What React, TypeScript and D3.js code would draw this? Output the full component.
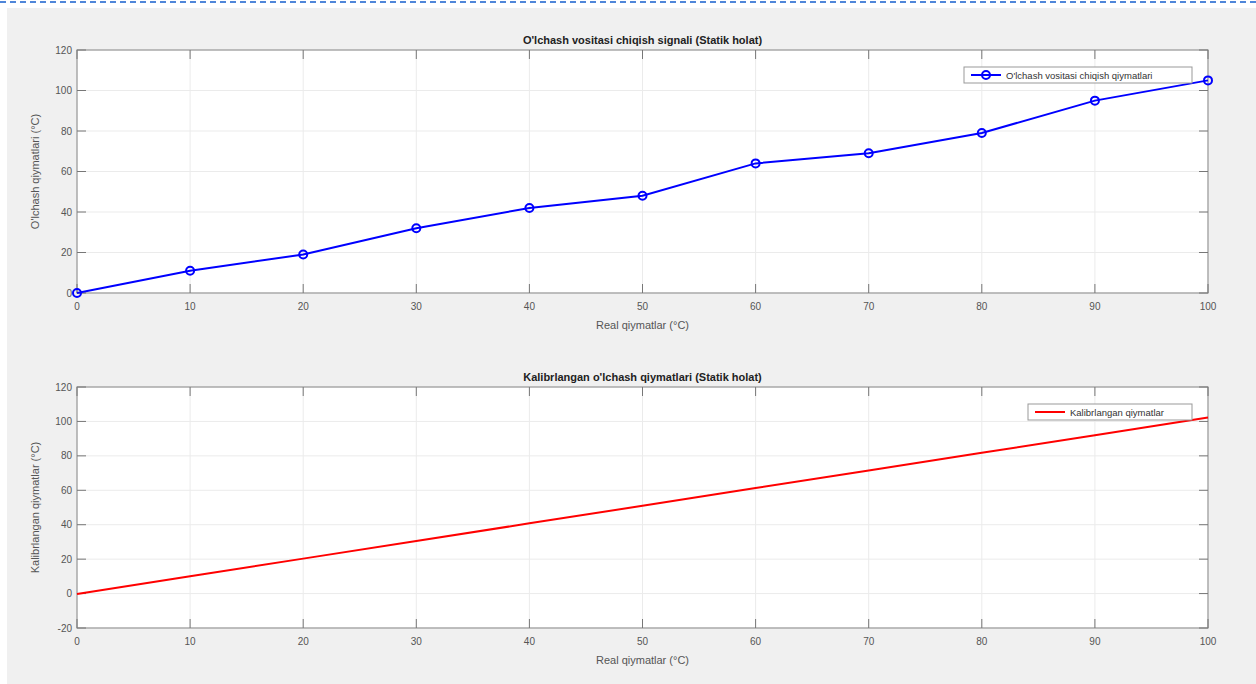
import React, { useEffect, useRef } from 'react';
import * as d3 from 'd3';

// data
const realValues = [0, 10, 20, 30, 40, 50, 60, 70, 80, 90, 100];
const measuredValues = [0, 11, 19, 32, 42, 48, 64, 69, 79, 95, 105];
const calibratedValues = [-0.3, 10, 20.3, 30.5, 40.8, 51, 61.3, 71.5, 81.8, 92, 102.3];
const xTicks = [0, 10, 20, 30, 40, 50, 60, 70, 80, 90, 100];
const yTicksTop = [0, 20, 40, 60, 80, 100, 120];
const yTicksBottom = [-20, 0, 20, 40, 60, 80, 100, 120];

const W = 1256, H = 684;
const font = '"Liberation Sans", Arial, sans-serif';

function App() {
  const ref = useRef<SVGSVGElement>(null);

  useEffect(() => {
    const svg = d3.select(ref.current);
    svg.selectAll('*').remove();

    // figure background
    svg.append('rect').attr('x', 7).attr('y', 8).attr('width', W - 7).attr('height', H - 8).attr('fill', '#f0f0f0');
    svg.append('line').attr('x1', 0).attr('x2', W).attr('y1', 2).attr('y2', 2)
      .attr('stroke', '#4f86d9').attr('stroke-width', 2).attr('stroke-dasharray', '6,4');

    function panel(opts: any) {
      const { top, bottom, yDomain, yTicks, title, ylabel, values, color, markers, legend, legendW } = opts;
      const left = 77, right = 1208;
      const x = d3.scaleLinear().domain([0, 100]).range([left, right]);
      const y = d3.scaleLinear().domain(yDomain).range([bottom, top]);
      const g = svg.append('g');

      g.append('rect').attr('x', left).attr('y', top).attr('width', right - left).attr('height', bottom - top).attr('fill', '#fff');

      // grid
      g.selectAll('.gx').data(xTicks).join('line')
        .attr('x1', d => x(d)).attr('x2', d => x(d)).attr('y1', top).attr('y2', bottom)
        .attr('stroke', '#ebebeb').attr('stroke-width', 1);
      g.selectAll('.gy').data(yTicks).join('line')
        .attr('x1', left).attr('x2', right).attr('y1', d => y(d)).attr('y2', d => y(d))
        .attr('stroke', '#ebebeb').attr('stroke-width', 1);

      // box
      g.append('rect').attr('x', left).attr('y', top).attr('width', right - left).attr('height', bottom - top)
        .attr('fill', 'none').attr('stroke', '#999').attr('stroke-width', 1.2);

      // inward ticks
      const tl = 9;
      xTicks.forEach(t => {
        g.append('line').attr('x1', x(t)).attr('x2', x(t)).attr('y1', bottom).attr('y2', bottom - tl).attr('stroke', '#777');
        g.append('line').attr('x1', x(t)).attr('x2', x(t)).attr('y1', top).attr('y2', top + tl).attr('stroke', '#777');
        g.append('text').attr('x', x(t)).attr('y', bottom + 17).attr('text-anchor', 'middle')
          .attr('font-family', font).attr('font-size', 10).attr('fill', '#555').text(t);
      });
      yTicks.forEach((t: number) => {
        g.append('line').attr('x1', left).attr('x2', left + tl).attr('y1', y(t)).attr('y2', y(t)).attr('stroke', '#777');
        g.append('line').attr('x1', right).attr('x2', right - tl).attr('y1', y(t)).attr('y2', y(t)).attr('stroke', '#777');
        g.append('text').attr('x', left - 5).attr('y', y(t) + 3.5).attr('text-anchor', 'end')
          .attr('font-family', font).attr('font-size', 10).attr('fill', '#555').text(t);
      });

      // title and labels
      g.append('text').attr('x', (left + right) / 2).attr('y', top - 6).attr('text-anchor', 'middle')
        .attr('font-family', font).attr('font-size', 11).attr('font-weight', 'bold').attr('fill', '#222').text(title);
      g.append('text').attr('x', (left + right) / 2).attr('y', bottom + 36).attr('text-anchor', 'middle')
        .attr('font-family', font).attr('font-size', 11).attr('fill', '#555').text('Real qiymatlar (°C)');
      g.append('text').attr('transform', `translate(39,${(top + bottom) / 2}) rotate(-90)`).attr('text-anchor', 'middle')
        .attr('font-family', font).attr('font-size', 11).attr('fill', '#555').text(ylabel);

      // line
      const line = d3.line<number>().x((d, i) => x(realValues[i])).y(d => y(d));
      g.append('path').datum(values).attr('d', line).attr('fill', 'none')
        .attr('stroke', color).attr('stroke-width', 2);
      if (markers) {
        g.selectAll('.mk').data(values).join('circle')
          .attr('cx', (d, i) => x(realValues[i])).attr('cy', d => y(d)).attr('r', 4)
          .attr('fill', 'none').attr('stroke', color).attr('stroke-width', 2);
      }

      // legend
      const lx = right - 16 - legendW, ly = top + 17;
      g.append('rect').attr('x', lx).attr('y', ly).attr('width', legendW).attr('height', 16)
        .attr('fill', '#fff').attr('stroke', '#999').attr('stroke-width', 1);
      g.append('line').attr('x1', lx + 7).attr('x2', lx + 37).attr('y1', ly + 8).attr('y2', ly + 8)
        .attr('stroke', color).attr('stroke-width', 2);
      if (markers) {
        g.append('circle').attr('cx', lx + 22).attr('cy', ly + 8).attr('r', 4)
          .attr('fill', 'none').attr('stroke', color).attr('stroke-width', 2);
      }
      g.append('text').attr('x', lx + 42).attr('y', ly + 11.5).attr('font-family', font).attr('font-size', 9.5)
        .attr('fill', '#333').text(legend);
    }

    panel({
      top: 50, bottom: 293, yDomain: [0, 120], yTicks: yTicksTop,
      title: "O'lchash vositasi chiqish signali (Statik holat)",
      ylabel: "O'lchash qiymatlari (°C)", values: measuredValues, color: '#0000ff', markers: true,
      legend: "O'lchash vositasi chiqish qiymatlari", legendW: 228,
    });
    panel({
      top: 387, bottom: 628, yDomain: [-20, 120], yTicks: yTicksBottom,
      title: "Kalibrlangan o'lchash qiymatlari (Statik holat)",
      ylabel: 'Kalibrlangan qiymatlar (°C)', values: calibratedValues, color: '#ff0000', markers: false,
      legend: 'Kalibrlangan qiymatlar', legendW: 164,
    });
  }, []);

  return <svg ref={ref} width={W} height={H} style={{ position: 'absolute', left: 0, top: 0 }} />;
}

export default App;
